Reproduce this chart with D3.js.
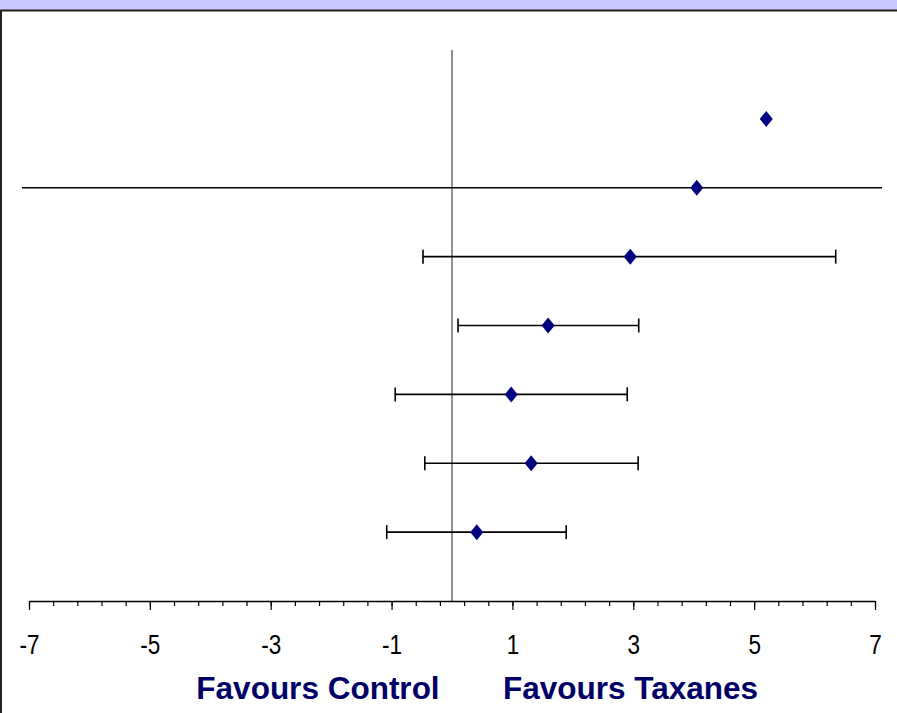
<!DOCTYPE html>
<html>
<head>
<meta charset="utf-8">
<script src="https://cdn.jsdelivr.net/npm/d3@7/dist/d3.min.js"></script>
<style>
  html, body { margin: 0; padding: 0; background: #fff; }
  svg { display: block; }
</style>
</head>
<body>
<svg id="chart" width="897" height="713"></svg>
<script>
// Forest plot: effect estimates with confidence intervals (Taxanes vs Control)
const rows      = [7, 6, 5, 4, 3, 2, 1];
const estimates = [5.20, 4.05, 2.95, 1.59, 0.98, 1.31, 0.41];
const lowerCI   = [null, -12, -0.48, 0.10, -0.94, -0.45, -1.08];
const upperCI   = [null, 12, 6.35, 3.09, 2.90, 3.08, 1.89];
const tickLabels = [-7, -5, -3, -1, 1, 3, 5, 7];
const leftCaption  = "Favours Control";
const rightCaption = "Favours Taxanes";

const W = 897, H = 713;
const svg = d3.select("#chart");

// frame: lavender band on top, dark rule, left border
svg.append("rect").attr("x", 0).attr("y", 0).attr("width", W).attr("height", 10).attr("fill", "#c8c8ff");
svg.append("line").attr("x1", 0).attr("x2", W).attr("y1", 10.5).attr("y2", 10.5)
  .attr("stroke", "#222").attr("stroke-width", 2);
svg.append("line").attr("x1", 1).attr("x2", 1).attr("y1", 10).attr("y2", H)
  .attr("stroke", "#222").attr("stroke-width", 2);

const x = d3.scaleLinear().domain([-7, 7]).range([29, 875]);
const y = d3.scaleLinear().domain([0, 8]).range([601, 50]);

// clip so intervals running past the plot are cut at its edges
svg.append("defs").append("clipPath").attr("id", "plotClip")
  .append("rect").attr("x", 22).attr("y", 40).attr("width", 860).attr("height", 570);

// line of no effect
svg.append("line")
  .attr("x1", x(0)).attr("x2", x(0)).attr("y1", y(8)).attr("y2", y(0))
  .attr("stroke", "#222").attr("stroke-width", 1);

// x axis: minor ticks every 0.4, longer ticks at labelled values
const minorTicks = d3.range(0, 36).map(i => -7 + i * 0.4);
const axisG = svg.append("g").attr("transform", `translate(0,${y(0)})`);
axisG.call(d3.axisBottom(x).tickValues(minorTicks).tickSize(5).tickFormat("").tickSizeOuter(0));
axisG.select(".domain").attr("stroke", "#000").attr("stroke-width", 1.5);
axisG.selectAll(".tick line").attr("stroke", "#000").attr("stroke-width", 1.2);

const majorG = svg.append("g").attr("transform", `translate(0,${y(0)})`);
majorG.call(d3.axisBottom(x).tickValues(tickLabels).tickSize(9).tickFormat("").tickSizeOuter(0));
majorG.select(".domain").remove();
majorG.selectAll(".tick line").attr("stroke", "#000").attr("stroke-width", 1.2);

// condensed tick labels with a plain hyphen for negatives
majorG.selectAll(".tick").append("text")
  .attr("transform", "translate(0,53) scale(0.82,1)")
  .attr("text-anchor", "middle")
  .attr("fill", "#000")
  .style("font-family", "'Liberation Sans', Arial, sans-serif")
  .style("font-size", "27.5px")
  .text(d => String(d));

// confidence intervals
const data = rows.map((r, i) => ({ row: r, est: estimates[i], lo: lowerCI[i], hi: upperCI[i] }));
const ci = svg.append("g").attr("clip-path", "url(#plotClip)");
const withCI = data.filter(d => d.lo !== null);
ci.selectAll("line.ci").data(withCI).join("line")
  .attr("class", "ci")
  .attr("x1", d => x(d.lo)).attr("x2", d => x(d.hi))
  .attr("y1", d => y(d.row)).attr("y2", d => y(d.row))
  .attr("stroke", "#000").attr("stroke-width", 1.6);
const capH = 7;
["lo", "hi"].forEach(k => {
  ci.selectAll("line.cap-" + k).data(withCI).join("line")
    .attr("class", "cap-" + k)
    .attr("x1", d => x(d[k])).attr("x2", d => x(d[k]))
    .attr("y1", d => y(d.row) - capH).attr("y2", d => y(d.row) + capH)
    .attr("stroke", "#000").attr("stroke-width", 1.6);
});

// point estimates as diamonds
const dw = 6.5, dh = 8;
svg.append("g").selectAll("path").data(data).join("path")
  .attr("d", d => {
    const cx = x(d.est), cy = y(d.row);
    return `M${cx},${cy - dh}L${cx + dw},${cy}L${cx},${cy + dh}L${cx - dw},${cy}Z`;
  })
  .attr("fill", "#000080");

// captions
const capFont = "'Liberation Sans', Arial, Helvetica, sans-serif";
svg.append("text").attr("x", 318).attr("y", 699)
  .attr("text-anchor", "middle").attr("fill", "#000066")
  .style("font-family", capFont).style("font-weight", "bold").style("font-size", "31.5px")
  .text(leftCaption);
svg.append("text").attr("x", 630.5).attr("y", 699)
  .attr("text-anchor", "middle").attr("fill", "#000066")
  .style("font-family", capFont).style("font-weight", "bold").style("font-size", "31.5px")
  .text(rightCaption);
</script>
</body>
</html>
